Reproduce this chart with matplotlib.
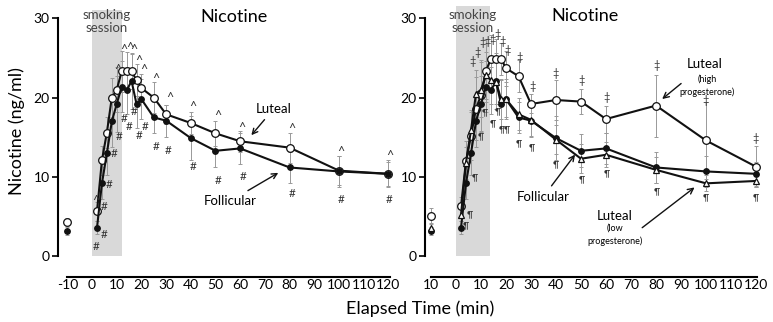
import matplotlib
matplotlib.use('Agg')
from matplotlib import pyplot as plt

plt.rcParams['font.family'] = ['Lato', 'DejaVu Sans']
plt.rcParams['axes.unicode_minus'] = False

# data (ng/ml)
times = [-10, 2, 4, 6, 8, 10, 12, 14, 16, 18, 20, 25, 30, 40, 50, 60, 80, 100, 120]

follicular = [3.2, 3.6, 9.2, 13.0, 17.0, 19.2, 21.4, 20.9, 22.1, 19.2, 19.8, 17.5, 17.1, 14.9, 13.3, 13.6, 11.2, 10.7, 10.4]
follicular_err = [0.5, 0.8, 2.0, 2.8, 3.2, 3.5, 3.2, 3.0, 3.5, 3.0, 2.5, 2.0, 2.0, 2.8, 2.1, 1.9, 1.9, 1.9, 1.5]

luteal = [4.3, 5.7, 12.1, 15.6, 20.0, 21.0, 23.3, 23.3, 23.3, 22.2, 21.2, 20.0, 17.9, 16.8, 15.5, 14.5, 13.7, 10.8, 10.4]
luteal_err = [0.5, 1.2, 1.8, 2.0, 2.5, 2.8, 2.6, 2.4, 2.2, 2.0, 1.8, 2.0, 1.2, 1.4, 1.6, 1.3, 1.9, 1.8, 1.7]

luteal_high = [5.1, 6.3, 12.0, 15.2, 18.6, 20.3, 23.4, 24.9, 24.9, 24.9, 23.7, 22.7, 19.2, 19.7, 19.5, 17.3, 19.0, 14.6, 11.3]
luteal_high_err = [1.0, 1.2, 2.5, 3.0, 4.0, 4.5, 4.0, 3.0, 2.5, 2.0, 2.2, 2.0, 1.2, 2.5, 1.6, 1.7, 3.9, 4.8, 2.6]

luteal_low = [3.6, 5.2, 11.8, 15.9, 20.5, 21.0, 22.8, 22.2, 22.0, 19.8, 19.8, 17.9, 17.2, 14.7, 12.3, 12.8, 10.9, 9.2, 9.5]
luteal_low_err = [0.6, 0.8, 2.0, 2.5, 3.0, 3.5, 3.0, 3.0, 2.8, 2.5, 2.2, 2.0, 2.0, 1.8, 1.8, 1.6, 1.6, 1.0, 0.8]

xticks = [-10, 0, 10, 20, 30, 40, 50, 60, 70, 80, 90, 100, 110, 120]
xlabels_left = ['-10', '0', '10', '20', '30', '40', '50', '60', '70', '80', '90', '100', '110', '120']
xlabels_right = ['10', '0', '10', '20', '30', '40', '50', '60', '70', '80', '90', '100', '110', '120']
yticks = [0, 10, 20, 30]

# significance symbols (x, y)
caret_x = [1.5, 10.5, 12.7, 15.1, 17.1, 18.8, 20.8, 25.9, 31.3, 40.9, 50.9, 60.6, 80.9, 100.8, 120.5]
caret_y = [7.0, 23.5, 26.0, 26.3, 26.0, 24.6, 23.5, 22.3, 19.9, 18.8, 17.7, 16.2, 16.1, 13.1, 12.6]
hash_x = [1.5, 5.0, 5.0, 7.0, 9.1, 10.9, 12.9, 15.0, 17.1, 19.2, 21.3, 25.9, 31.0, 40.9, 50.9, 61.1, 80.9, 100.8, 120.5]
hash_y = [1.2, 2.7, 6.3, 9.1, 13.0, 15.1, 17.4, 16.3, 18.2, 15.2, 16.3, 13.9, 13.4, 11.3, 9.6, 10.0, 7.9, 7.2, 7.2]
dagger_x = [6.7, 8.7, 10.7, 12.5, 14.7, 16.5, 18.7, 20.5, 25.6, 30.5, 40.0, 50.3, 60.3, 80.3, 100.0, 120.0]
dagger_y = [24.5, 25.7, 26.9, 27.1, 27.3, 27.9, 27.1, 25.9, 25.1, 21.4, 23.1, 22.2, 20.0, 24.0, 19.7, 14.9]
pilcrow_x = [4.0, 5.6, 7.6, 10.0, 11.5, 14.9, 16.9, 18.3, 20.5, 25.3, 30.5, 40.0, 50.3, 60.3, 80.3, 100.0, 120.0]
pilcrow_y = [3.8, 5.3, 9.9, 15.1, 18.1, 16.7, 18.2, 15.9, 15.9, 14.2, 13.7, 11.6, 9.7, 10.4, 8.2, 7.4, 7.4]

fig = plt.figure(figsize=(7.73, 3.22), dpi=100)
ax1 = fig.add_axes([58 / 773, 45 / 322, 334 / 773, 277 / 322])
ax2 = fig.add_axes([425 / 773, 45 / 322, 338 / 773, 277 / 322])


def series(ax, y, err, marker, face, ms):
    ax.errorbar(times, y, yerr=err, fmt='none', ecolor='#999999', elinewidth=0.7,
                capsize=1.5, capthick=0.7, zorder=2)
    ax.plot(times[1:], y[1:], color='#111111', lw=1.5, marker=marker, ms=ms,
            mfc=face, mec='#111111', mew=0.9, zorder=3)
    ax.plot(times[:1], y[:1], ls='none', marker=marker, ms=ms,
            mfc=face, mec='#111111', mew=0.9, zorder=3)


def frame(ax, session_end, session_top, xmin, xmax, labels):
    ax.fill_between([0, session_end], 0, session_top, color='#d9d9d9', lw=0, zorder=0)
    ax.set_xlim(xmin, xmax)
    ax.set_ylim(-2.6, 32.3)
    for s in ['top', 'right']:
        ax.spines[s].set_visible(False)
    ax.spines['left'].set_bounds(0, 30)
    ax.spines['bottom'].set_bounds(-10, 120.5)
    ax.spines['left'].set_linewidth(1.5)
    ax.spines['bottom'].set_linewidth(1.5)
    ax.set_xticks(xticks)
    ax.set_xticklabels(labels)
    ax.set_yticks(yticks)
    ax.tick_params(axis='x', length=0, pad=1.5, labelsize=10)
    ax.tick_params(axis='y', length=4, width=1.2, pad=2, labelsize=10)
    ax.text(session_end / 2, 29.6, 'smoking\nsession', ha='center', va='center',
            fontsize=9.5, color='#444444', linespacing=1.1)


# left panel
frame(ax1, 12, 31.0, -13.8, 121.5, xlabels_left)
series(ax1, luteal, luteal_err, 'o', 'white', 5.5)
series(ax1, follicular, follicular_err, 'o', '#111111', 4)
for x, y in zip(caret_x, caret_y):
    ax1.text(x, y, '^', ha='center', va='center', fontsize=9, color='#333333')
for x, y in zip(hash_x, hash_y):
    ax1.text(x, y, '#', ha='center', va='center', fontsize=8.5, color='#333333')
ax1.text(57.3, 30.1, 'Nicotine', ha='center', va='center', fontsize=13)
ax1.annotate('Luteal', xy=(63.8, 15.0), xytext=(73.6, 18.6), ha='center', va='center',
             fontsize=9.5, arrowprops=dict(arrowstyle='->', color='#111111', lw=1))
ax1.annotate('Follicular', xy=(76.4, 10.7), xytext=(56.1, 7.0), ha='center', va='center',
             fontsize=9.5, arrowprops=dict(arrowstyle='->', color='#111111', lw=1))

# right panel
frame(ax2, 13.5, 31.6, -12.4, 122.8, xlabels_right)
series(ax2, luteal_high, luteal_high_err, 'o', 'white', 5.5)
series(ax2, follicular, follicular_err, 'o', '#111111', 4)
series(ax2, luteal_low, luteal_low_err, '^', 'white', 5)
for x, y in zip(dagger_x, dagger_y):
    ax2.text(x, y, '‡', ha='center', va='center', fontsize=8, color='#333333')
for x, y in zip(pilcrow_x, pilcrow_y):
    ax2.text(x, y, '¶', ha='center', va='center', fontsize=6.5, color='#333333')
ax2.text(51.6, 30.3, 'Nicotine', ha='center', va='center', fontsize=13)
ax2.annotate('', xy=(81.6, 19.6), xytext=(90.9, 22.0),
             arrowprops=dict(arrowstyle='->', color='#111111', lw=1))
ax2.text(99.6, 24.2, 'Luteal', ha='center', va='center', fontsize=9.5)
ax2.text(100.5, 21.5, '(high\nprogesterone)', ha='center', va='center', fontsize=6.5, linespacing=1.5)
ax2.annotate('Follicular', xy=(48.3, 13.1), xytext=(34.9, 7.5), ha='center', va='center',
             fontsize=9.5, arrowprops=dict(arrowstyle='->', color='#111111', lw=1))
ax2.annotate('', xy=(96.3, 8.9), xytext=(73.6, 3.4),
             arrowprops=dict(arrowstyle='->', color='#111111', lw=1))
ax2.text(63.6, 5.1, 'Luteal', ha='center', va='center', fontsize=9.5)
ax2.text(63.6, 2.7, '(low\nprogesterone)', ha='center', va='center', fontsize=6.5, linespacing=1.5)

fig.text(17 / 773, 1 - 131 / 322, 'Nicotine (ng/ml)', rotation=90, ha='center', va='center', fontsize=13)
fig.text(420 / 773, 1 - 309 / 322, 'Elapsed Time (min)', ha='center', va='center', fontsize=13)

plt.savefig('out.png', dpi=100)
